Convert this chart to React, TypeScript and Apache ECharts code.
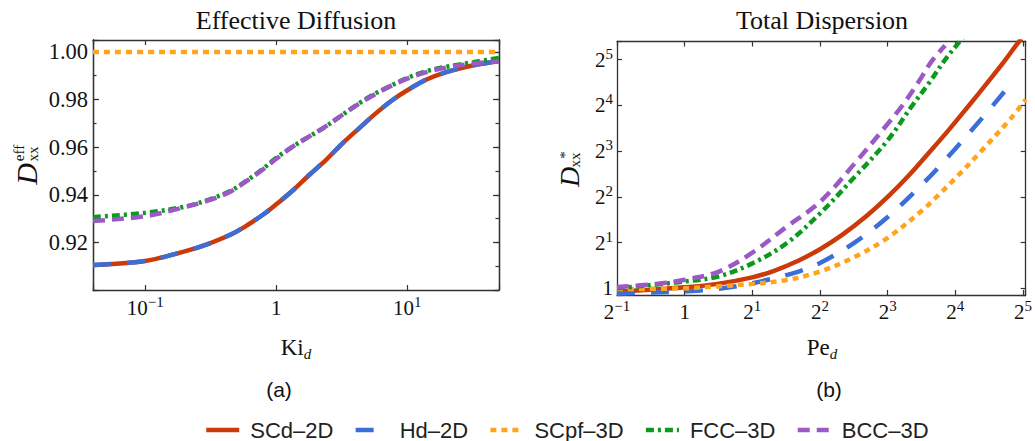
import React, { useEffect, useRef } from 'react';
import * as echarts from 'echarts';

// ---------- data ----------
const seriesNames = ['SCd–2D', 'Hd–2D', 'SCpf–3D', 'FCC–3D', 'BCC–3D'];

// (a) Effective diffusion vs Ki_d
const kiValues = [0.04, 0.1, 0.2, 0.3, 0.45, 0.6, 0.8, 1, 1.35, 1.8, 2.4, 3.2, 4.3, 5.8, 7.8, 10, 14, 21, 32, 50];
const effSCd2D = [0.9105, 0.9122, 0.9162, 0.9193, 0.9233, 0.9272, 0.9318, 0.936, 0.942, 0.9485, 0.9547, 0.9616, 0.968, 0.9744, 0.98, 0.9839, 0.9884, 0.9919, 0.9944, 0.9961];
const effHd2D = [0.9105, 0.9122, 0.9162, 0.9193, 0.9233, 0.9272, 0.9318, 0.936, 0.942, 0.9485, 0.9547, 0.9616, 0.968, 0.9744, 0.98, 0.9839, 0.9884, 0.9919, 0.9944, 0.9961];
const effSCpf3D = [1, 1, 1, 1, 1, 1, 1, 1, 1, 1, 1, 1, 1, 1, 1, 1, 1, 1, 1, 1];
const effFCC3D = [0.9306, 0.9324, 0.935, 0.9378, 0.9417, 0.9461, 0.9511, 0.9555, 0.9604, 0.9646, 0.9688, 0.9736, 0.9785, 0.9828, 0.9863, 0.9891, 0.9919, 0.994, 0.9957, 0.9975];
const effBCC3D = [0.929, 0.931, 0.9348, 0.9375, 0.9414, 0.9459, 0.9508, 0.9551, 0.9604, 0.9646, 0.9688, 0.9736, 0.9783, 0.9825, 0.9862, 0.9888, 0.9915, 0.9937, 0.9951, 0.9961];

// (b) Total dispersion vs Pe_d
const peSCd2D = [0.5, 0.7, 1, 1.4, 2, 2.5, 3.2, 4, 5, 6.5, 8, 10, 12.1, 15, 18.2, 22, 26.4, 29.8, 31.5];
const dispSCd2D = [0.95, 0.98, 1.015, 1.07, 1.18, 1.305, 1.52, 1.81, 2.24, 3.03, 4.0, 5.6, 7.7, 11.1, 15.7, 22.2, 31.2, 39.8, 44];
const peHd2D = [0.5, 0.7, 1, 1.4, 2, 3.16, 4, 5.7, 8, 11.5, 16, 21.3, 28.3];
const dispHd2D = [0.92, 0.94, 0.955, 0.99, 1.08, 1.28, 1.47, 2.0, 2.95, 4.9, 8.3, 13.5, 22.2];
const peSCpf3D = [0.5, 1, 1.4, 2, 2.8, 4, 5.7, 8, 11.5, 13.2, 16, 21, 28.3, 32.9];
const dispSCpf3D = [0.99, 1.0, 1.03, 1.07, 1.13, 1.29, 1.61, 2.15, 3.3, 4.0, 5.3, 8.1, 13.2, 17.5];
const peFCC3D = [0.5, 1, 1.42, 2, 2.84, 4, 5.7, 8, 10.3, 12.3, 14.4, 16.8, 17.5];
const dispFCC3D = [1.0, 1.11, 1.2, 1.46, 1.98, 3.11, 5.41, 9.43, 16, 22.8, 32, 42.5, 46];
const peBCC3D = [0.5, 0.75, 1, 1.42, 2, 2.84, 4, 5.7, 8, 9.3, 11, 12.5, 14.4];
const dispBCC3D = [1.02, 1.07, 1.14, 1.29, 1.72, 2.54, 3.71, 6.63, 12.1, 16, 23, 31, 39.7];

// ---------- style ----------
const SERIF = '"Liberation Serif", "Times New Roman", serif';
const SANS = '"Liberation Sans", Arial, sans-serif';
const FRAME = '#333333';
const colors = ['#cc3a0a', '#3b6fd8', '#ffa41b', '#0c9a1e', '#9b59c6'];
const dashes: any[] = ['solid', [18, 16], [6, 5], [8, 4, 3, 4], [12, 7]];

function makeRich(size: number) {
  return {
    b: { fontFamily: SERIF, fontSize: size, color: '#111', lineHeight: size + 3, verticalAlign: 'middle' },
    s: { fontFamily: SERIF, fontSize: 15, color: '#111', lineHeight: 15, padding: [0, 0, 12, 0], verticalAlign: 'middle' },
  };
}

function powLabel(base: number, baseText: string) {
  return (v: number) => {
    const e = Math.log(v) / Math.log(base);
    const r = Math.round(e);
    if (Math.abs(e - r) > 1e-6) return '';
    if (r === 0) return '{b|1}';
    return `{b|${baseText}}{s|${r < 0 ? '−' : ''}${Math.abs(r)}}`;
  };
}

function leftYLabel(v: number) {
  const k = Math.round(v * 100);
  if (Math.abs(v * 100 - k) > 1e-6 || k < 91 || k > 100) return '';
  return `{b|${v.toFixed(2)}}`;
}

function frameAxis(extra: any) {
  return {
    axisLine: { show: true, onZero: false, lineStyle: { color: FRAME, width: 1.3 } },
    splitLine: { show: false },
    ...extra,
  };
}

function buildOption() {
  const leftData = [effSCd2D, effHd2D, effSCpf3D, effFCC3D, effBCC3D];
  const rightX = [peSCd2D, peHd2D, peSCpf3D, peFCC3D, peBCC3D];
  const rightY = [dispSCd2D, dispHd2D, dispSCpf3D, dispFCC3D, dispBCC3D];

  const common = (i: number) => ({
    type: 'line', showSymbol: false, symbol: 'none', smooth: 0.35, silent: true, clip: true,
    lineStyle: { width: 4.5, color: colors[i], type: dashes[i], cap: 'butt' },
    itemStyle: { color: colors[i] },
  });

  const series: any[] = [];
  seriesNames.forEach((name, i) => {
    series.push({
      name, xAxisIndex: 0, yAxisIndex: 0, ...common(i),
      data: kiValues.map((k, j) => [k, leftData[i][j]]),
    });
  });
  seriesNames.forEach((name, i) => {
    series.push({
      name, xAxisIndex: 2, yAxisIndex: 4, ...common(i),
      data: rightX[i].map((p, j) => [p, rightY[i][j]]),
    });
  });

  const tickStyle = { lineStyle: { color: FRAME, width: 1.2 } };

  return {
    animation: false,
    backgroundColor: '#ffffff',
    grid: [
      { left: 93, top: 40, width: 406, height: 250 },
      { left: 617, top: 41.5, width: 411, height: 253.5 },
    ],
    xAxis: [
      frameAxis({
        type: 'log', logBase: 10, min: 0.04, max: 50, gridIndex: 0, position: 'bottom',
        axisTick: { show: true, inside: true, length: 5, ...tickStyle },
        axisLabel: { show: true, margin: 6, formatter: powLabel(10, '10'), rich: makeRich(21), showMinLabel: true, showMaxLabel: true },
      }),
      frameAxis({
        type: 'log', logBase: 10, min: 0.04, max: 50, gridIndex: 0, position: 'top',
        axisTick: { show: true, inside: true, length: 5, ...tickStyle },
        axisLabel: { show: false },
      }),
      frameAxis({
        type: 'log', logBase: 2, min: 0.5, max: 32.9, gridIndex: 1, position: 'bottom',
        axisTick: { show: true, inside: true, length: 5, ...tickStyle },
        axisLabel: { show: true, margin: 5, formatter: powLabel(2, '2'), rich: makeRich(21), showMinLabel: true, showMaxLabel: true },
      }),
      frameAxis({
        type: 'log', logBase: 2, min: 0.5, max: 32.9, gridIndex: 1, position: 'top',
        axisTick: { show: true, inside: true, length: 5, ...tickStyle },
        axisLabel: { show: false },
      }),
    ],
    yAxis: [
      frameAxis({
        type: 'value', min: 0.9, max: 1.005, interval: 0.02, gridIndex: 0, position: 'left',
        axisTick: { show: true, inside: true, length: 6, ...tickStyle },
        axisLabel: { show: true, margin: 5, formatter: leftYLabel, rich: makeRich(22.5), showMinLabel: true, showMaxLabel: true },
      }),
      frameAxis({
        type: 'value', min: 0.9, max: 1.005, interval: 0.01, gridIndex: 0, position: 'left',
        axisTick: { show: true, inside: true, length: 3.5, ...tickStyle },
        axisLabel: { show: false },
      }),
      frameAxis({
        type: 'value', min: 0.9, max: 1.005, interval: 0.02, gridIndex: 0, position: 'right',
        axisTick: { show: true, inside: true, length: 6, ...tickStyle },
        axisLabel: { show: false },
      }),
      frameAxis({
        type: 'value', min: 0.9, max: 1.005, interval: 0.01, gridIndex: 0, position: 'right',
        axisTick: { show: true, inside: true, length: 3.5, ...tickStyle },
        axisLabel: { show: false },
      }),
      frameAxis({
        type: 'log', logBase: 2, min: 0.904, max: 42.2, gridIndex: 1, position: 'left',
        axisTick: { show: true, inside: true, length: 5, ...tickStyle },
        axisLabel: { show: true, margin: 4, formatter: powLabel(2, '2'), rich: makeRich(21), showMinLabel: true, showMaxLabel: true },
      }),
      frameAxis({
        type: 'log', logBase: 2, min: 0.904, max: 42.2, gridIndex: 1, position: 'right',
        axisTick: { show: true, inside: true, length: 5, ...tickStyle },
        axisLabel: { show: false },
      }),
    ],
    legend: {
      data: seriesNames,
      left: 199,
      top: 414,
      orient: 'horizontal',
      itemWidth: 33,
      itemHeight: 12,
      itemGap: 20,
      selectedMode: false,
      lineStyle: { width: 4.5 },
      itemStyle: { opacity: 0, borderWidth: 0 },
      textStyle: { fontFamily: SANS, fontSize: 22, color: '#222', padding: [0, 0, 0, 6] },
    },
    graphic: [
      { type: 'text', x: 296, y: 20, style: { text: 'Effective Diffusion', font: `26px ${SERIF}`, fill: '#111', align: 'center', verticalAlign: 'middle' } },
      { type: 'text', x: 822, y: 20, style: { text: 'Total Dispersion', font: `26px ${SERIF}`, fill: '#111', align: 'center', verticalAlign: 'middle' } },
      {
        type: 'text', x: 296, y: 347,
        style: {
          text: '{n|Ki}{d|d}', align: 'center', verticalAlign: 'middle', fill: '#111',
          rich: {
            n: { fontFamily: SERIF, fontSize: 23, lineHeight: 23, verticalAlign: 'middle', fill: '#111' },
            d: { fontFamily: SERIF, fontSize: 15, fontStyle: 'italic', lineHeight: 15, padding: [14, 0, 0, 0], verticalAlign: 'middle', fill: '#111' },
          },
        },
      },
      {
        type: 'text', x: 822, y: 347,
        style: {
          text: '{n|Pe}{d|d}', align: 'center', verticalAlign: 'middle', fill: '#111',
          rich: {
            n: { fontFamily: SERIF, fontSize: 23, lineHeight: 23, verticalAlign: 'middle', fill: '#111' },
            d: { fontFamily: SERIF, fontSize: 15, fontStyle: 'italic', lineHeight: 15, padding: [14, 0, 0, 0], verticalAlign: 'middle', fill: '#111' },
          },
        },
      },
      { type: 'text', x: 279, y: 389, style: { text: '(a)', font: `21px ${SANS}`, fill: '#111', align: 'center', verticalAlign: 'middle' } },
      { type: 'text', x: 829, y: 389, style: { text: '(b)', font: `21px ${SANS}`, fill: '#111', align: 'center', verticalAlign: 'middle' } },
      {
        type: 'group', x: 26, y: 174, rotation: Math.PI / 2,
        children: [
          { type: 'text', x: 0, y: 0, style: { text: 'D', font: `italic 30px ${SERIF}`, fill: '#111', align: 'center', verticalAlign: 'middle' } },
          { type: 'text', x: 21, y: -7, style: { text: 'eff', font: `15px ${SERIF}`, fill: '#111', align: 'center', verticalAlign: 'middle' } },
          { type: 'text', x: 20, y: 7, style: { text: 'xx', font: `15px ${SERIF}`, fill: '#111', align: 'center', verticalAlign: 'middle' } },
        ],
      },
      {
        type: 'group', x: 569, y: 177, rotation: Math.PI / 2,
        children: [
          { type: 'text', x: 0, y: 0, style: { text: 'D', font: `italic 28px ${SERIF}`, fill: '#111', align: 'center', verticalAlign: 'middle' } },
          { type: 'text', x: 22, y: -4, style: { text: '*', font: `15px ${SERIF}`, fill: '#111', align: 'center', verticalAlign: 'middle' } },
          { type: 'text', x: 17, y: 6, style: { text: 'xx', font: `15px ${SERIF}`, fill: '#111', align: 'center', verticalAlign: 'middle' } },
        ],
      },
    ],
    series,
  };
}

export default function App() {
  const ref = useRef<HTMLDivElement>(null);
  useEffect(() => {
    if (!ref.current) return;
    const chart = echarts.init(ref.current, undefined, { renderer: 'svg' });
    chart.setOption(buildOption() as any);
    return () => chart.dispose();
  }, []);
  return (
    <div
      ref={ref}
      style={{ position: 'fixed', left: 0, top: 0, width: 1035, height: 441, background: '#ffffff' }}
    />
  );
}
